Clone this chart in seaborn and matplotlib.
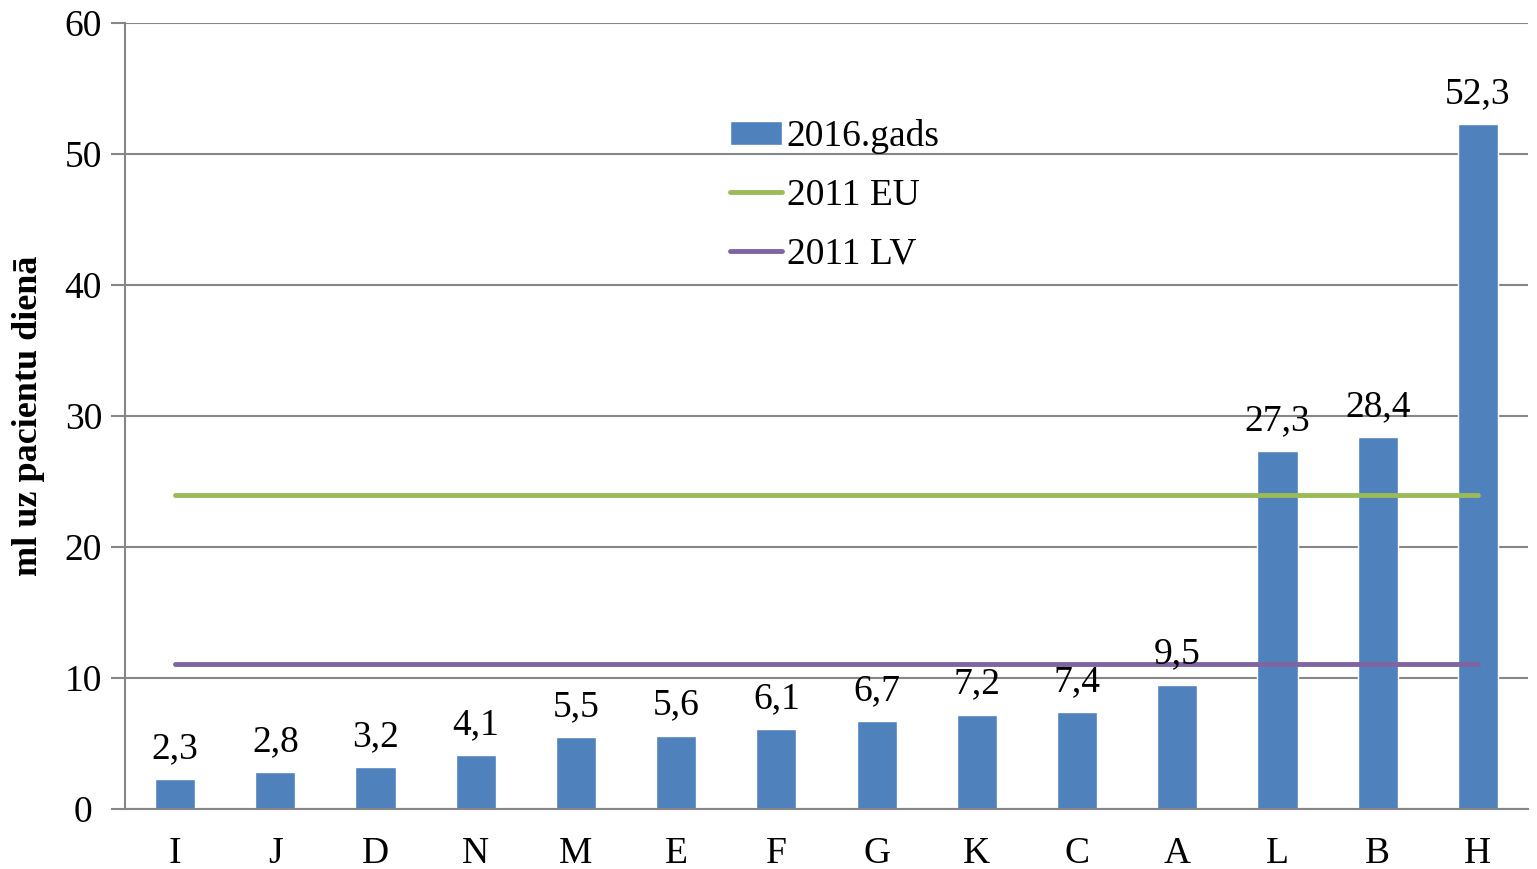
import numpy as np
import pandas as pd
import matplotlib
matplotlib.use("Agg")
import matplotlib.pyplot as plt
import seaborn as sns

categories = ["I", "J", "D", "N", "M", "E", "F", "G", "K", "C", "A", "L", "B", "H"]
values_2016 = [2.3, 2.8, 3.2, 4.1, 5.5, 5.6, 6.1, 6.7, 7.2, 7.4, 9.5, 27.3, 28.4, 52.3]
eu_2011 = 24.0
lv_2011 = 11.1
y_ticks = [0, 10, 20, 30, 40, 50, 60]

sns.set_style("white")
plt.rcParams["font.family"] = ["Liberation Serif", "DejaVu Serif"]
plt.rcParams["text.color"] = "black"
plt.rcParams["axes.labelcolor"] = "black"
plt.rcParams["xtick.color"] = "black"
plt.rcParams["ytick.color"] = "black"

df = pd.DataFrame({"cat": categories, "val": values_2016})

fig = plt.figure(figsize=(15.37, 8.69), dpi=100)
ax = fig.add_axes([125 / 1537, 1 - 809 / 869, (1528 - 125) / 1537, (809 - 23) / 869])

sns.barplot(data=df, x="cat", y="val", color="#4F81BD", saturation=1,
            width=0.4, ax=ax, label="2016.gads", zorder=2)
n = len(categories)
ax.plot([0, n - 1], [eu_2011] * 2, color="#9BBB59", lw=3.5, solid_capstyle="round",
        label="2011 EU", zorder=3)
ax.plot([0, n - 1], [lv_2011] * 2, color="#8064A2", lw=3.5, solid_capstyle="round",
        label="2011 LV", zorder=3)

for i, v in enumerate(values_2016):
    ax.text(i, v + 1.0, f"{v:.1f}".replace(".", ","), ha="center", va="bottom",
            fontsize=27, zorder=4)

ax.set_xlim(-0.5, n - 0.5)
ax.set_ylim(0, 60)
ax.set_yticks(y_ticks)
ax.set_yticklabels([str(t) for t in y_ticks], fontsize=27)
ax.set_xticks(range(n))
ax.set_xticklabels(categories, fontsize=27)
ax.set_xticks(np.arange(-0.5, n, 1), minor=True)
ax.tick_params(axis="x", which="major", length=0, pad=20)
ax.tick_params(axis="x", which="minor", length=8, width=1.5, color="#868686", direction="out")
ax.tick_params(axis="y", length=10, width=1.5, color="#868686", labelcolor="black",
               direction="out", pad=20, left=True)
for lbl in ax.get_yticklabels():
    lbl.set_horizontalalignment("center")
ax.yaxis.grid(True, color="#868686", lw=1.5, zorder=0)
ax.set_axisbelow(True)
for s in ["top", "right"]:
    ax.spines[s].set_visible(False)
for s in ["left", "bottom"]:
    ax.spines[s].set_color("#868686")
    ax.spines[s].set_linewidth(1.5)
ax.set_xlabel("")
ax.set_ylabel("ml uz pacientu dienā", fontsize=26, fontweight="bold", labelpad=14)

handles, labels = ax.get_legend_handles_labels()
order = [labels.index(l) for l in ["2016.gads", "2011 EU", "2011 LV"]]
ax.legend([handles[i] for i in order], [labels[i] for i in order],
          loc="upper left", bbox_to_anchor=(0.431, 0.878), frameon=False, fontsize=27,
          handlelength=1.4, handleheight=0.6, handletextpad=0.12, labelspacing=0.65,
          borderaxespad=0, borderpad=0)

fig.savefig("out.png", dpi=100)
